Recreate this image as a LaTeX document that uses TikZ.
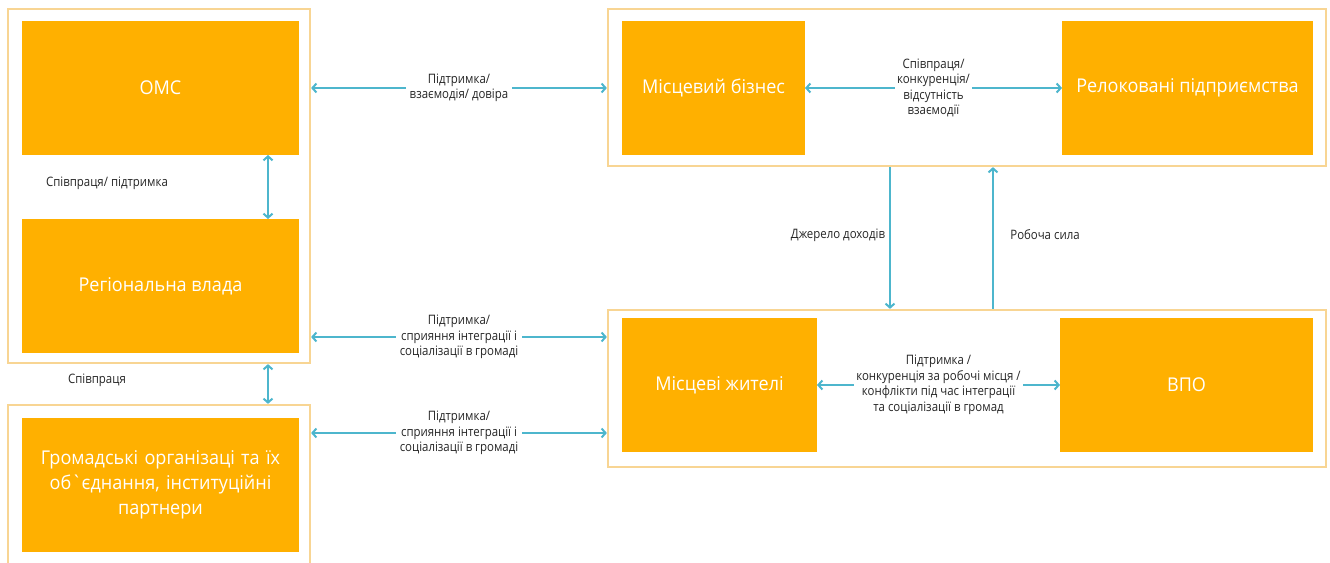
\documentclass[tikz,border=0pt]{standalone}
\usepackage{fontspec}
\setmainfont{Open Sans}
\newfontfamily\condfont[FakeStretch=0.88]{Open Sans}
\newfontfamily\boxfont[FakeStretch=0.95]{Open Sans}
\usetikzlibrary{arrows.meta,calc}
\definecolor{boxor}{HTML}{FFB000}
\definecolor{contor}{HTML}{F8D593}
\definecolor{teal}{HTML}{4DB6CD}
\tikzset{
  obox/.style={fill=boxor, draw=none, text=white, inner sep=4pt, outer sep=0pt, align=center,
     font=\boxfont\fontsize{19}{25}\selectfont},
  cont/.style={draw=contor, line width=2.2pt, fill=white, inner sep=0pt},
  biarr/.style={draw=teal, line width=2pt, {Straight Barb[length=4pt,width=9pt]}-{Straight Barb[length=4pt,width=9pt]}},
  onearr/.style={draw=teal, line width=2pt, -{Straight Barb[length=4pt,width=9pt]}},
  lbl/.style={fill=white, inner sep=4pt, align=center, text=black!85, font=\condfont\fontsize{13}{15.5}\selectfont},
}
\begin{document}
\begin{tikzpicture}[x=1pt,y=-1pt]
\useasboundingbox (0,0) rectangle (1330,562);
\begin{scope}
\clip (0,0) rectangle (1330,562);
% containers
\node[cont, minimum width=302pt, minimum height=354pt] (cA) at (159,186) {};
\node[cont, minimum width=302pt, minimum height=170pt] (cB) at (159,490) {};
\node[cont, minimum width=718pt, minimum height=157pt] (cC) at (967,87.5) {};
\node[cont, minimum width=718pt, minimum height=157pt] (cD) at (967,388.5) {};
% boxes
\node[obox, minimum width=277pt, minimum height=134pt] (omc) at (160.5,88) {ОМС};
\node[obox, minimum width=277pt, minimum height=134pt] (reg) at (160.5,286) {Регіональна влада};
\node[obox, minimum width=277pt, minimum height=134pt, text width=269pt] (gro) at (160.5,485) {Громадські організаці та їх\\ об`єднання, інституційні\\ партнери};
\node[obox, minimum width=183pt, minimum height=134pt] (mb) at (713.5,88) {Місцевий бізнес};
\node[obox, minimum width=251pt, minimum height=134pt] (rel) at (1187.5,88) {Релоковані підприємства};
\node[obox, minimum width=195pt, minimum height=134pt] (mz) at (719.5,385) {Місцеві жителі};
\node[obox, minimum width=253pt, minimum height=134pt] (vpo) at (1186.5,385) {ВПО};
\end{scope}
% helper coordinates
\coordinate (y337) at (0,337);
\coordinate (y433) at (0,433);
\coordinate (x268) at (268,0);
\coordinate (x890) at (890,0);
\coordinate (x993) at (993,0);
% horizontal connectors
\draw[biarr] (cA.east |- omc.east) -- node[lbl]{Підтримка/\\взаємодія/ довіра} (cC.west |- omc.east);
\draw[biarr] (cA.east |- y337) -- node[lbl]{Підтримка/\\сприяння інтеграції і\\соціалізації в громаді} (cD.west |- y337);
\draw[biarr] (cB.east |- y433) -- node[lbl]{Підтримка/\\сприяння інтеграції і\\соціалізації в громаді} (cD.west |- y433);
\draw[biarr] (mb.east) -- node[lbl, inner sep=2pt]{Співпраця/\\конкуренція/\\відсутність\\взаємодії} (rel.west);
\draw[biarr] (mz.east) -- node[lbl, inner sep=2pt]{Підтримка /\\конкуренція за робочі місця /\\конфлікти під час інтеграції\\та соціалізації в громад} (vpo.west);
% vertical connectors
\draw[biarr] (x268 |- omc.south) -- (x268 |- reg.north);
\draw[biarr] (x268 |- cA.south) -- (x268 |- cB.north);
\draw[onearr] (x890 |- cC.south) -- (x890 |- cD.north);
\draw[onearr] (x993 |- cD.north) -- (x993 |- cC.south);
% free labels
\node[lbl] (l1) at (107,183) {Співпраця/ підтримка};
\node[lbl] (l2) at (97,380) {Співпраця};
\node[lbl] (l3) at (838,235) {Джерело доходів};
\node[lbl] (l4) at (1045,235) {Робоча сила};
\end{tikzpicture}
\end{document}
